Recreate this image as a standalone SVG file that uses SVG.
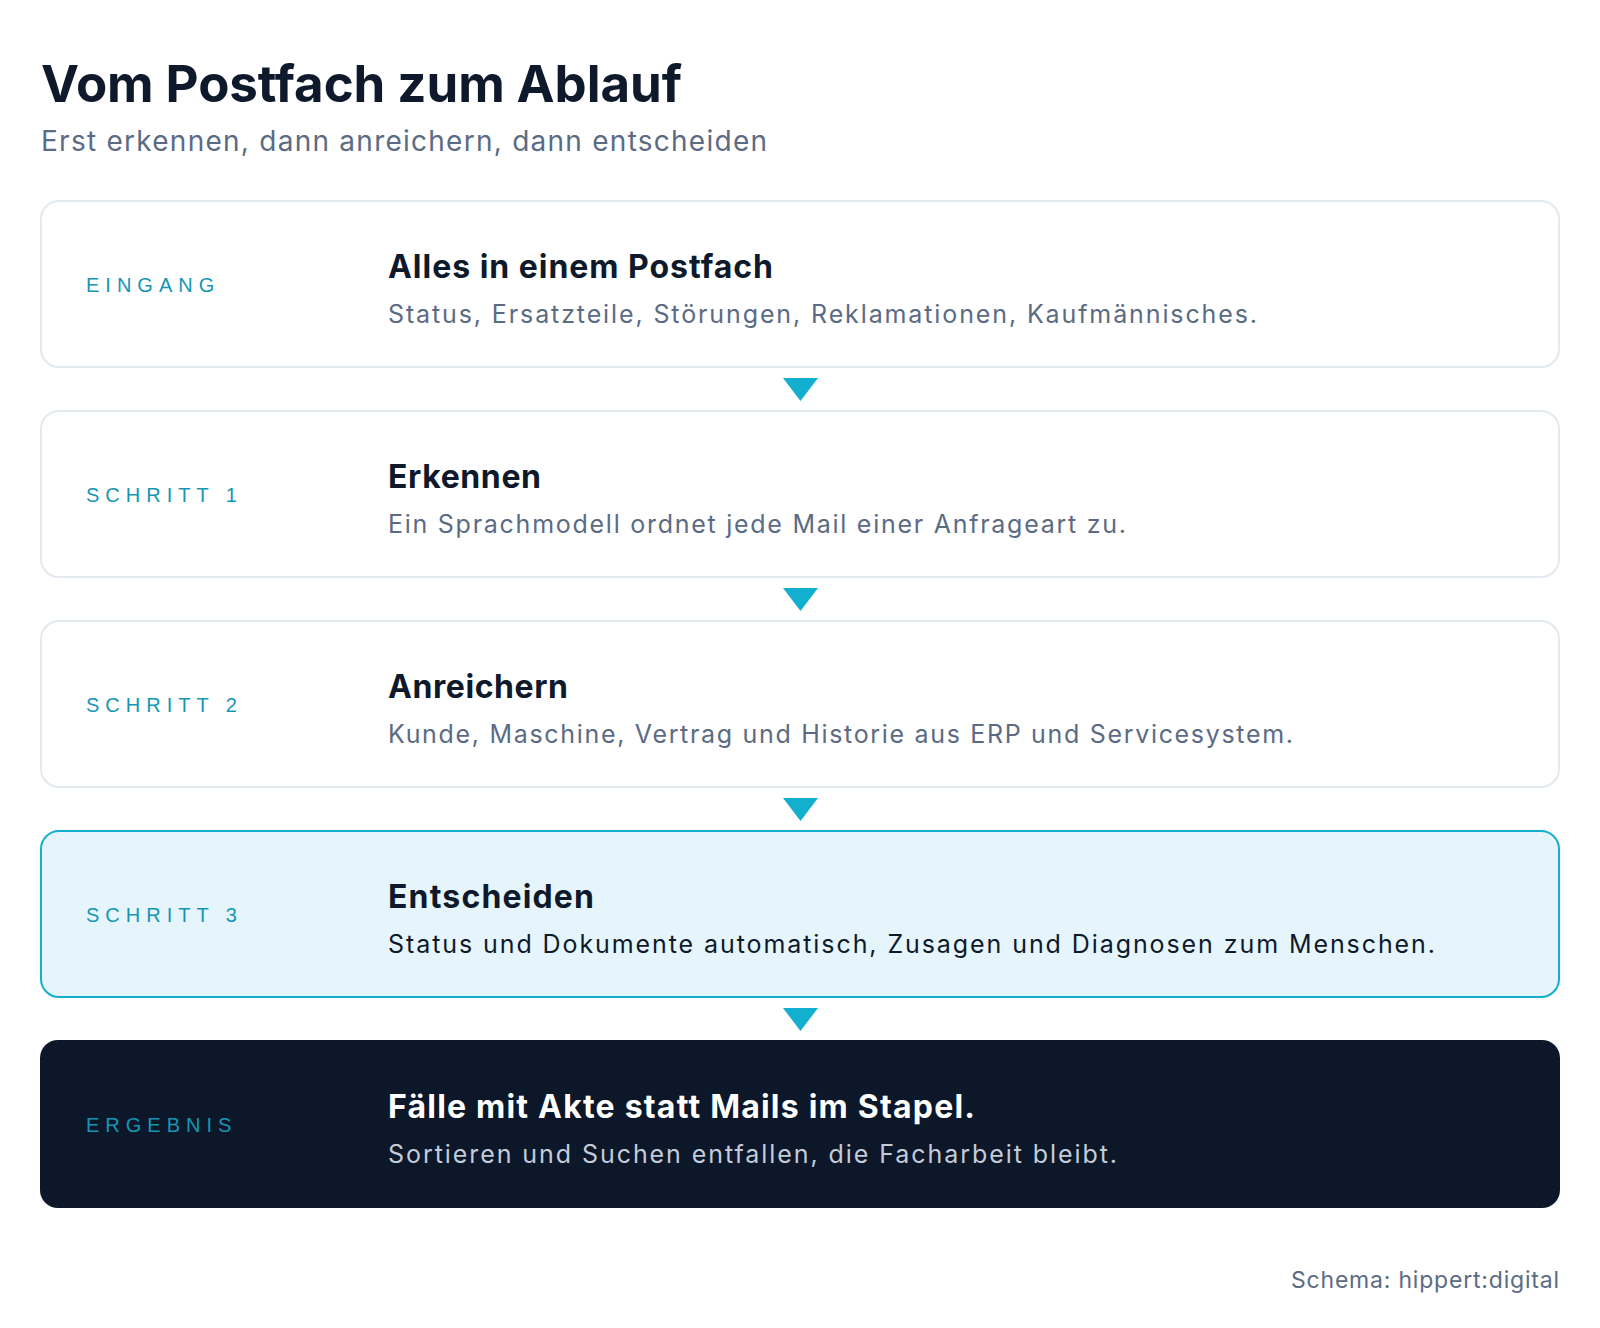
<svg xmlns="http://www.w3.org/2000/svg" width="1600" height="1328" viewBox="0 0 1600 1328">
<style>
.title{font-family:Inter,"Liberation Sans",sans-serif;font-weight:700;font-size:51px;fill:#0e1a2b}
.sub{font-family:Inter,"Liberation Sans",sans-serif;font-size:28px;fill:#5b6b84}
.box{fill:#ffffff;stroke:#e3e9f0;stroke-width:2}
.boxhi{fill:#e6f5fb;stroke:#14afcf;stroke-width:2}
.boxdark{fill:#0c1729;stroke:none}
.lbl{font-family:"Liberation Sans",sans-serif;font-size:20px;fill:#1596b5;letter-spacing:6px}
.h{font-family:Inter,"Liberation Sans",sans-serif;font-weight:700;font-size:32px;fill:#0e1a2b}
.d{font-family:Inter,"Liberation Sans",sans-serif;font-size:25px;fill:#5b6b84}
.dhi{fill:#0e1a2b}
.hdark{fill:#ffffff}
.ddark{fill:#c3ccd8}
.arr{fill:#12afcf}
.foot{font-family:Inter,"Liberation Sans",sans-serif;font-size:23px;fill:#5b6b84}
</style>
<text class="title" x="41" y="102" textLength="641">Vom Postfach zum Ablauf</text>
<text class="sub" x="41" y="151" textLength="726">Erst erkennen, dann anreichern, dann entscheiden</text>

<g id="node-eingang">
<rect class="box" x="41" y="201" width="1518" height="166" rx="18"/>
<text class="lbl" x="86" y="292">EINGANG</text>
<text class="h" x="388" y="278" textLength="385">Alles in einem Postfach</text>
<text class="d" x="388" y="323" textLength="869">Status, Ersatzteile, Störungen, Reklamationen, Kaufmännisches.</text>
</g>
<g id="node-schritt1">
<rect class="box" x="41" y="411" width="1518" height="166" rx="18"/>
<text class="lbl" x="86" y="502">SCHRITT 1</text>
<text class="h" x="388" y="488" textLength="153">Erkennen</text>
<text class="d" x="388" y="533" textLength="738">Ein Sprachmodell ordnet jede Mail einer Anfrageart zu.</text>
</g>
<g id="node-schritt2">
<rect class="box" x="41" y="621" width="1518" height="166" rx="18"/>
<text class="lbl" x="86" y="712">SCHRITT 2</text>
<text class="h" x="388" y="698" textLength="180">Anreichern</text>
<text class="d" x="388" y="743" textLength="905">Kunde, Maschine, Vertrag und Historie aus ERP und Servicesystem.</text>
</g>
<g id="node-schritt3">
<rect class="boxhi" x="41" y="831" width="1518" height="166" rx="18"/>
<text class="lbl" x="86" y="922">SCHRITT 3</text>
<text class="h" x="388" y="908" textLength="206">Entscheiden</text>
<text class="d dhi" x="388" y="953" textLength="1047">Status und Dokumente automatisch, Zusagen und Diagnosen zum Menschen.</text>
</g>
<g id="node-ergebnis">
<rect class="boxdark" x="40" y="1040" width="1520" height="168" rx="18"/>
<text class="lbl" x="86" y="1132">ERGEBNIS</text>
<text class="h hdark" x="388" y="1118" textLength="587">Fälle mit Akte statt Mails im Stapel.</text>
<text class="d ddark" x="388" y="1163" textLength="729">Sortieren und Suchen entfallen, die Facharbeit bleibt.</text>
</g>

<g id="connectors">
<polygon class="arr" points="783,378 818,378 800.5,401"/>
<polygon class="arr" points="783,588 818,588 800.5,611"/>
<polygon class="arr" points="783,798 818,798 800.5,821"/>
<polygon class="arr" points="783,1008 818,1008 800.5,1031"/>
</g>

<text class="foot" x="1559" y="1288" text-anchor="end" textLength="268">Schema: hippert:digital</text>
</svg>
